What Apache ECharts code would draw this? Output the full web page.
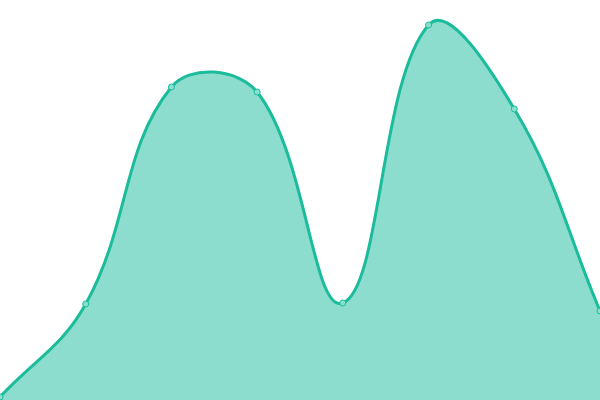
<!DOCTYPE html>
<html><head><meta charset="utf-8">
<script src="https://cdn.jsdelivr.net/npm/echarts@6/dist/echarts.min.js"></script>
<style>html,body{margin:0;padding:0;}#c{width:600px;height:400px;}</style>
</head><body><div id="c"></div>
<script>
const categories = ['A','B','C','D','E','F','G','H'];
const values = [3, 96, 313, 308, 97, 375, 291, 89];
const SMOOTH = 0.4;

function curvePath(pts) {
  // cubic bezier through the points, tangent from neighbours, weighted by segment lengths
  const n = pts.length;
  const cps = [];
  for (let i = 0; i < n; i++) {
    const p = pts[i];
    const prev = pts[Math.max(0, i - 1)];
    const next = pts[Math.min(n - 1, i + 1)];
    const vx = next[0] - prev[0], vy = next[1] - prev[1];
    const l0 = Math.hypot(p[0] - prev[0], p[1] - prev[1]);
    const l1 = Math.hypot(next[0] - p[0], next[1] - p[1]);
    const r = (l0 + l1) ? l1 / (l0 + l1) : 0.5;
    cps.push({
      before: [p[0] - vx * SMOOTH * (1 - r), p[1] - vy * SMOOTH * (1 - r)],
      after: [p[0] + vx * SMOOTH * r, p[1] + vy * SMOOTH * r]
    });
  }
  let d = 'M' + pts[0][0] + ' ' + pts[0][1];
  for (let i = 0; i < n - 1; i++) {
    const a = cps[i].after, b = cps[i + 1].before, q = pts[i + 1];
    d += ' C' + a[0] + ' ' + a[1] + ' ' + b[0] + ' ' + b[1] + ' ' + q[0] + ' ' + q[1];
  }
  return d;
}

const chart = echarts.init(document.getElementById('c'));
chart.setOption({
  animation: false,
  grid: {left: 0, right: 0, top: 0, bottom: 0},
  xAxis: {type: 'category', data: categories, boundaryGap: false, show: false},
  yAxis: {type: 'value', min: 0, max: 400, show: false},
  series: [{
    type: 'custom',
    data: values.map((v, i) => [i, v]),
    encode: {x: 0, y: 1},
    clip: false,
    renderItem: function (params, api) {
      if (params.dataIndex !== 0) return null;
      const pts = values.map((v, i) => api.coord([i, v]));
      const base = api.coord([0, 0])[1];
      const line = curvePath(pts);
      const area = line + ' L' + pts[pts.length - 1][0] + ' ' + base + ' L' + pts[0][0] + ' ' + base + ' Z';
      return {
        type: 'group',
        children: [
          {type: 'path', shape: {pathData: area}, style: {fill: 'rgba(26,188,156,0.5)', stroke: null}},
          {type: 'path', shape: {pathData: line}, style: {fill: null, stroke: '#1abc9c', lineWidth: 3, lineJoin: 'round'}}
        ]
      };
    }
  }, {
    type: 'line',
    data: values,
    symbol: 'circle',
    symbolSize: 6,
    lineStyle: {opacity: 0},
    itemStyle: {color: '#8ae0cf', borderColor: '#1abc9c', borderWidth: 1},
    z: 3
  }]
});
</script></body></html>
